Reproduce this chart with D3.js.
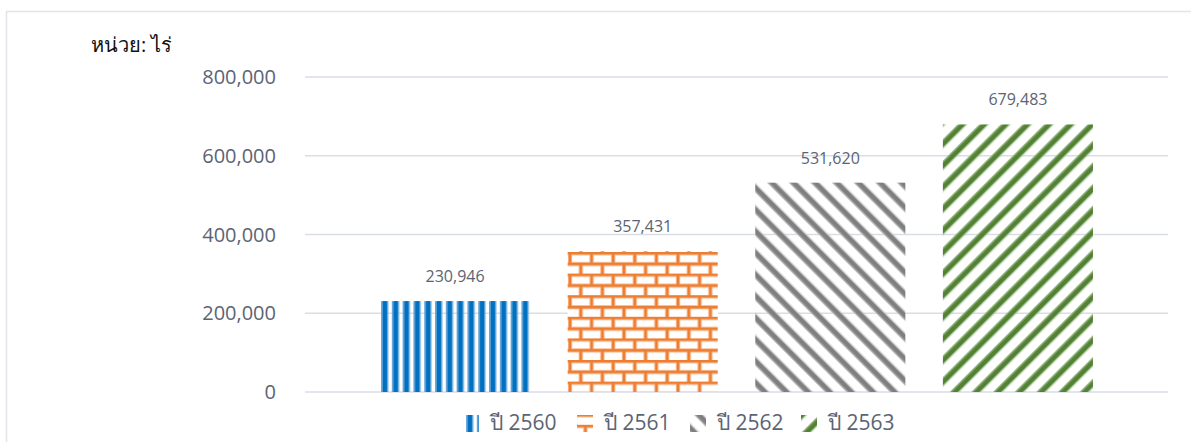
<!DOCTYPE html>
<html>
<head>
<meta charset="utf-8">
<script src="https://cdn.jsdelivr.net/npm/d3@7"></script>
<style>
  html, body { margin: 0; padding: 0; background: #fff; }
  svg { display: block; font-family: "Open Sans", "Noto Sans", "DejaVu Sans", sans-serif; }
</style>
</head>
<body>
<svg id="chart" width="1191" height="442"></svg>
<script>
const series = ["ปี 2560", "ปี 2561", "ปี 2562", "ปี 2563"];
const values = [230946, 357431, 531620, 679483];
const yTicks = [0, 200000, 400000, 600000, 800000];
const unitLabel = "หน่วย: ไร่";

const svg = d3.select("#chart");
const defs = svg.append("defs");

// Patterns
const pBlue = defs.append("pattern").attr("id", "pBlue")
  .attr("patternUnits", "userSpaceOnUse").attr("width", 10.8).attr("height", 10)
  .attr("x", 381);
pBlue.append("rect").attr("x", 0).attr("y", 0).attr("width", 1.4).attr("height", 10).attr("fill", "#6fa6da");
pBlue.append("rect").attr("x", 1.4).attr("y", 0).attr("width", 5.2).attr("height", 10).attr("fill", "#0070C0");
pBlue.append("rect").attr("x", 6.6).attr("y", 0).attr("width", 1).attr("height", 10).attr("fill", "#9cc3e8");

const pBrick = defs.append("pattern").attr("id", "pBrick")
  .attr("patternUnits", "userSpaceOnUse").attr("width", 21.6).attr("height", 21.6)
  .attr("x", 567).attr("y", 252);
pBrick.append("rect").attr("width", 21.6).attr("height", 21.6).attr("fill", "#fff");
const brickPath = "M0,1.2 H21.6 M0,12 H21.6 M3,1.2 V12 M13.8,12 V22.8";
pBrick.append("path").attr("d", brickPath)
  .attr("stroke", "#f6c09a").attr("stroke-width", 4.4).attr("fill", "none");
pBrick.append("path").attr("d", brickPath)
  .attr("stroke", "#ED7D31").attr("stroke-width", 2.6).attr("fill", "none");

const pGray = defs.append("pattern").attr("id", "pGray")
  .attr("patternUnits", "userSpaceOnUse").attr("width", 15.3).attr("height", 10)
  .attr("patternTransform", "rotate(-45)");
pGray.append("rect").attr("x", 0).attr("y", 0).attr("width", 1.2).attr("height", 10).attr("fill", "#bdbdbd");
pGray.append("rect").attr("x", 1.2).attr("y", 0).attr("width", 4.6).attr("height", 10).attr("fill", "#7f7f7f");
pGray.append("rect").attr("x", 5.8).attr("y", 0).attr("width", 1.2).attr("height", 10).attr("fill", "#bdbdbd");

const pGreen = defs.append("pattern").attr("id", "pGreen")
  .attr("patternUnits", "userSpaceOnUse").attr("width", 15.3).attr("height", 10)
  .attr("patternTransform", "rotate(45)");
pGreen.append("rect").attr("x", 0).attr("y", 0).attr("width", 1.2).attr("height", 10).attr("fill", "#9fbd8c");
pGreen.append("rect").attr("x", 1.2).attr("y", 0).attr("width", 4.6).attr("height", 10).attr("fill", "#548235");
pGreen.append("rect").attr("x", 5.8).attr("y", 0).attr("width", 1.2).attr("height", 10).attr("fill", "#9fbd8c");

const fills = ["url(#pBlue)", "url(#pBrick)", "url(#pGray)", "url(#pGreen)"];

// Outer border
svg.append("rect").attr("x", 6.5).attr("y", 11.5).attr("width", 1200).attr("height", 500)
  .attr("fill", "none").attr("stroke", "#e1e4e9").attr("stroke-width", 1.5);

const y = d3.scaleLinear().domain([0, 800000]).range([392, 77]);
const x = d3.scaleBand().domain(series).range([305, 1168]).paddingInner(0.2).paddingOuter(0.4);

// Gridlines
svg.append("g").selectAll("line").data(yTicks).join("line")
  .attr("x1", 305).attr("x2", 1168)
  .attr("y1", d => y(d)).attr("y2", d => y(d))
  .attr("stroke", "#d9dee6").attr("stroke-width", 1.5);

// Y axis labels
const fmt = d3.format(",");
svg.append("g").selectAll("text").data(yTicks).join("text")
  .attr("x", 276).attr("y", d => y(d)).attr("dy", "0.35em")
  .attr("text-anchor", "end").attr("font-size", 20).attr("fill", "#5b6475")
  .text(d => fmt(d));

// Unit label
svg.append("text").attr("x", 91).attr("y", 52).attr("font-size", 20).attr("fill", "#111")
  .text(unitLabel);

// Bars
svg.append("g").selectAll("rect").data(series).join("rect")
  .attr("x", d => x(d)).attr("width", x.bandwidth())
  .attr("y", (d, i) => y(values[i])).attr("height", (d, i) => y(0) - y(values[i]))
  .attr("fill", (d, i) => fills[i]);

// Data labels
svg.append("g").selectAll("text").data(series).join("text")
  .attr("x", d => x(d) + x.bandwidth() / 2)
  .attr("y", (d, i) => y(values[i]) - 19)
  .attr("text-anchor", "middle").attr("font-size", 16).attr("fill", "#5b6475")
  .text((d, i) => fmt(values[i]));

// Legend
const legX = [463, 577, 690, 801];
const leg = svg.append("g").selectAll("g").data(series).join("g")
  .attr("transform", (d, i) => `translate(${legX[i]},0)`);
leg.append("rect").attr("x", 0).attr("y", 415).attr("width", 16).attr("height", 17)
  .attr("fill", (d, i) => fills[i]);
leg.append("text").attr("x", 27).attr("y", 423).attr("dy", "0.35em")
  .attr("font-size", 21).attr("fill", "#5b6475")
  .text(d => d);
</script>
</body>
</html>
